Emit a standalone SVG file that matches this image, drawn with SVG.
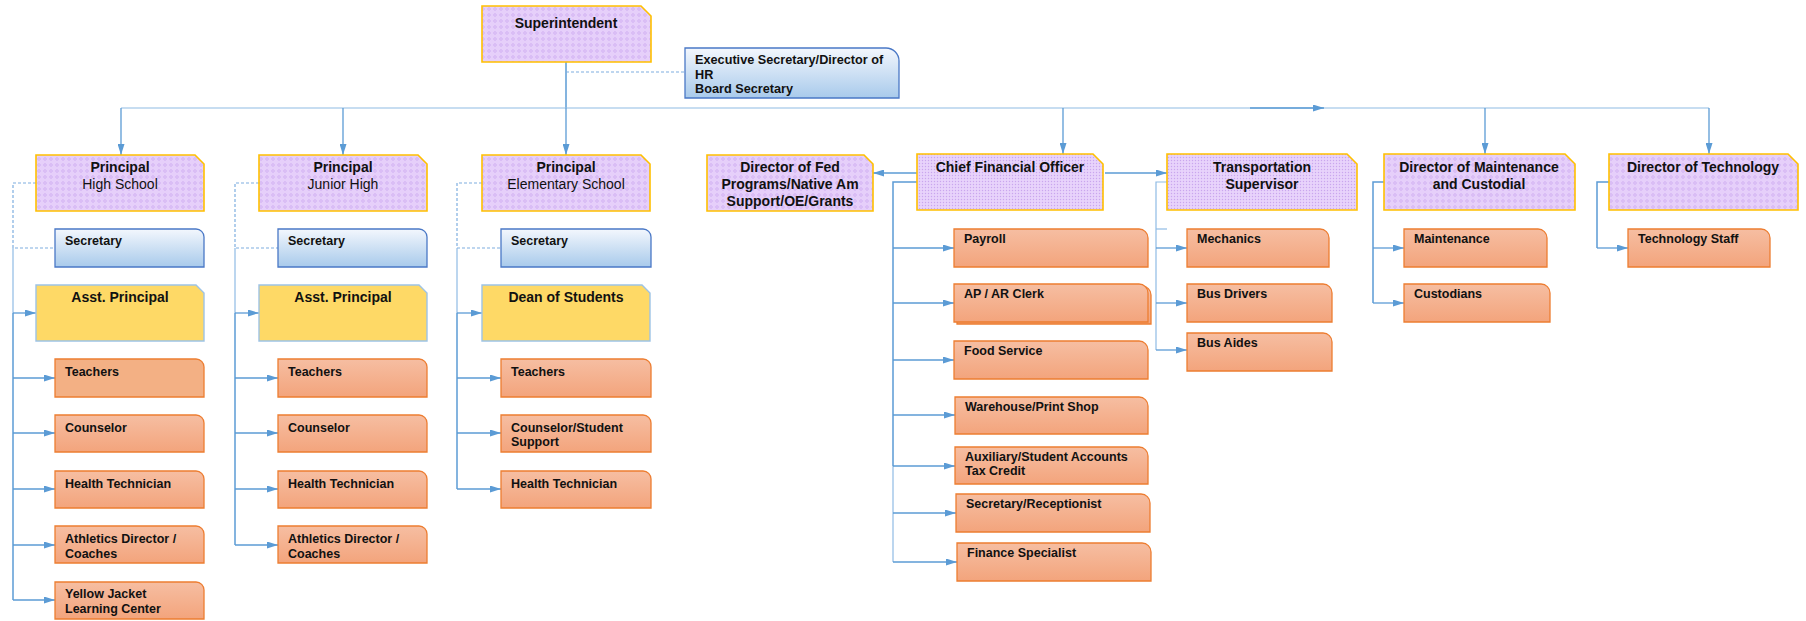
<svg xmlns="http://www.w3.org/2000/svg" width="1806" height="621" viewBox="0 0 1806 621">
<style>
.t{font-family:"Liberation Sans",Arial,sans-serif;fill:#111;}
.h{font-size:14px;font-weight:bold;text-anchor:middle;}
.hr{font-size:14px;font-weight:normal;text-anchor:middle;}
.c{font-size:12.5px;font-weight:bold;}
.pur{fill:url(#dots);stroke:#ffc000;stroke-width:1.6;}
.purf{fill:url(#fine);stroke:#ffc000;stroke-width:1.6;}
.yel{fill:#fed966;stroke:#9dc3e6;stroke-width:1.4;}
.blu{fill:url(#gBlue);stroke:#4a78c6;stroke-width:1.3;}
.org{fill:url(#gOrange);stroke:#ed7d31;stroke-width:1.3;}
.ln{fill:none;stroke:#5b9bd5;stroke-width:1.5;}
.lt{fill:none;stroke:#8fbbe4;stroke-width:1.2;}
.ar{fill:none;stroke:#5b9bd5;stroke-width:1.3;marker-end:url(#ah);}
.dsh{fill:none;stroke:#7eaee0;stroke-width:1.2;stroke-dasharray:3 2;}
</style>
<defs>
<pattern id="dots" width="6" height="6" patternUnits="userSpaceOnUse"><rect width="6" height="6" fill="#e6cffa"/><circle cx="3" cy="3" r="1.3" fill="none" stroke="#c6a0ec" stroke-width="0.6"/></pattern>
<pattern id="fine" width="3" height="3" patternUnits="userSpaceOnUse"><rect width="3" height="3" fill="#e8d3fb"/><circle cx="1.5" cy="1.5" r="0.7" fill="#c9a6ee"/></pattern>
<linearGradient id="gOrange" x1="0" y1="0" x2="0" y2="1"><stop offset="0" stop-color="#f6bea2"/><stop offset="1" stop-color="#f3a47c"/></linearGradient>
<linearGradient id="gBlue" x1="0" y1="0" x2="0" y2="1"><stop offset="0" stop-color="#f3f7fd"/><stop offset="1" stop-color="#a8caeb"/></linearGradient>
<marker id="ah" viewBox="0 0 11 7" refX="11" refY="3.5" markerWidth="11" markerHeight="7" markerUnits="userSpaceOnUse" orient="auto"><path d="M0 0 L11 3.5 L0 7 Z" fill="#5b9bd5"/></marker>
</defs>

<g id="connectors">
<path class="ln" d="M566 62 V108"/>
<path class="dsh" d="M566 72 H685"/>
<path class="lt" d="M121 108 H1709"/>
<path class="ar" d="M1250 108 H1324"/>
<path class="ar" d="M121 108 V155"/>
<path class="ar" d="M343 108 V155"/>
<path class="ar" d="M566 108 V155"/>
<path class="ar" d="M1063 108 V154"/>
<path class="ar" d="M1485 108 V154"/>
<path class="ar" d="M1709 108 V154"/>
<path class="ar" d="M917 173 H873"/>
<path class="ar" d="M1105 173 H1167"/>
<!-- CFO tree -->
<path class="ln" d="M917 182 H893 V466"/>
<path class="lt" d="M893 466 V562"/>
<path class="ar" d="M893 248 H954"/>
<path class="ar" d="M893 303 H954"/>
<path class="ar" d="M893 360 H954"/>
<path class="ar" d="M893 415 H955"/>
<path class="ar" d="M893 466 H955"/>
<path class="ar" d="M893 513 H956"/>
<path class="ar" d="M893 562 H957"/>
<!-- Transportation tree -->
<path class="lt" d="M1167 182 H1156 V350"/>
<path class="lt" d="M1156 229 H1167"/>
<path class="ar" d="M1156 248 H1187"/>
<path class="ar" d="M1156 303 H1187"/>
<path class="ar" d="M1156 350 H1187"/>
<!-- Maintenance tree -->
<path class="ln" d="M1384 182 H1373 V303"/>
<path class="ar" d="M1373 248 H1404"/>
<path class="ar" d="M1373 303 H1404"/>
<!-- Technology tree -->
<path class="ln" d="M1609 182 H1597 V248"/>
<path class="ar" d="M1597 248 H1628"/>
<!-- High School tree -->
<path class="dsh" d="M36 183 H13 V248 H55"/>
<path class="lt" d="M13 248 V313"/>
<path class="ln" d="M13 313 V600"/>
<path class="ar" d="M13 313 H36"/>
<path class="ar" d="M13 378 H55"/>
<path class="ar" d="M13 433 H55"/>
<path class="ar" d="M13 489 H55"/>
<path class="ar" d="M13 545 H55"/>
<path class="ar" d="M13 600 H55"/>
<!-- Junior High tree -->
<path class="dsh" d="M259 183 H235 V248 H278"/>
<path class="lt" d="M235 248 V313"/>
<path class="ln" d="M235 313 V545"/>
<path class="ar" d="M235 313 H259"/>
<path class="ar" d="M235 378 H278"/>
<path class="ar" d="M235 433 H278"/>
<path class="ar" d="M235 489 H278"/>
<path class="ar" d="M235 545 H278"/>
<!-- Elementary tree -->
<path class="dsh" d="M482 183 H457 V248 H501"/>
<path class="lt" d="M457 248 V313"/>
<path class="ln" d="M457 313 V489"/>
<path class="ar" d="M457 313 H482"/>
<path class="ar" d="M457 378 H501"/>
<path class="ar" d="M457 433 H501"/>
<path class="ar" d="M457 489 H501"/>
</g>

<g id="superintendent"><path class="pur" d="M482 6 H641 L651 16 V62 H482 Z"/><text class="t h" x="566" y="28">Superintendent</text></g>
<g id="exec-secretary"><path class="blu" d="M685 48 H886 A13 13 0 0 1 899 61 V98 H685 Z"/><text class="t c" x="695" y="64" style="font-size:12.7px">Executive Secretary/Director of</text><text class="t c" x="695" y="79" style="font-size:12.7px">HR</text><text class="t c" x="695" y="93" style="font-size:12.7px">Board Secretary</text></g>

<g id="principal-hs"><path class="pur" d="M36 155 H195 L204 164 V211 H36 Z"/><text class="t h" x="120" y="172">Principal</text><text class="t hr" x="120" y="189">High School</text></g>
<g id="principal-jh"><path class="pur" d="M259 155 H418 L427 164 V211 H259 Z"/><text class="t h" x="343" y="172">Principal</text><text class="t hr" x="343" y="189">Junior High</text></g>
<g id="principal-es"><path class="pur" d="M482 155 H641 L650 164 V211 H482 Z"/><text class="t h" x="566" y="172">Principal</text><text class="t hr" x="566" y="189">Elementary School</text></g>

<g id="secretary-hs"><path class="blu" d="M55 229 H196 A8 8 0 0 1 204 237 V267 H55 Z"/><text class="t c" x="65" y="245">Secretary</text></g>
<g id="secretary-jh"><path class="blu" d="M278 229 H419 A8 8 0 0 1 427 237 V267 H278 Z"/><text class="t c" x="288" y="245">Secretary</text></g>
<g id="secretary-es"><path class="blu" d="M501 229 H643 A8 8 0 0 1 651 237 V267 H501 Z"/><text class="t c" x="511" y="245">Secretary</text></g>

<g id="asst-principal-hs"><path class="yel" d="M36 285 H196 L204 293 V341 H36 Z"/><text class="t h" x="120" y="302">Asst. Principal</text></g>
<g id="asst-principal-jh"><path class="yel" d="M259 285 H419 L427 293 V341 H259 Z"/><text class="t h" x="343" y="302">Asst. Principal</text></g>
<g id="dean-es"><path class="yel" d="M482 285 H642 L650 293 V341 H482 Z"/><text class="t h" x="566" y="302">Dean of Students</text></g>

<g id="hs-teachers"><path class="org" style="fill:#f3b084" d="M55 359 H196 A8 8 0 0 1 204 367 V397 H55 Z"/><text class="t c" x="65" y="376">Teachers</text></g>
<g id="hs-counselor"><path class="org" d="M55 415 H196 A8 8 0 0 1 204 423 V452 H55 Z"/><text class="t c" x="65" y="432">Counselor</text></g>
<g id="hs-health"><path class="org" d="M55 471 H196 A8 8 0 0 1 204 479 V508 H55 Z"/><text class="t c" x="65" y="488">Health Technician</text></g>
<g id="hs-athletics"><path class="org" d="M55 526 H196 A8 8 0 0 1 204 534 V563 H55 Z"/><text class="t c" x="65" y="543">Athletics Director /</text><text class="t c" x="65" y="558">Coaches</text></g>
<g id="hs-yellow-jacket"><path class="org" d="M55 582 H196 A8 8 0 0 1 204 590 V619 H55 Z"/><text class="t c" x="65" y="598">Yellow Jacket</text><text class="t c" x="65" y="613">Learning Center</text></g>

<g id="jh-teachers"><path class="org" d="M278 359 H419 A8 8 0 0 1 427 367 V397 H278 Z"/><text class="t c" x="288" y="376">Teachers</text></g>
<g id="jh-counselor"><path class="org" d="M278 415 H419 A8 8 0 0 1 427 423 V452 H278 Z"/><text class="t c" x="288" y="432">Counselor</text></g>
<g id="jh-health"><path class="org" d="M278 471 H419 A8 8 0 0 1 427 479 V508 H278 Z"/><text class="t c" x="288" y="488">Health Technician</text></g>
<g id="jh-athletics"><path class="org" d="M278 526 H419 A8 8 0 0 1 427 534 V563 H278 Z"/><text class="t c" x="288" y="543">Athletics Director /</text><text class="t c" x="288" y="558">Coaches</text></g>

<g id="es-teachers"><path class="org" d="M501 359 H643 A8 8 0 0 1 651 367 V397 H501 Z"/><text class="t c" x="511" y="376">Teachers</text></g>
<g id="es-counselor"><path class="org" d="M501 415 H643 A8 8 0 0 1 651 423 V452 H501 Z"/><text class="t c" x="511" y="432">Counselor/Student</text><text class="t c" x="511" y="446">Support</text></g>
<g id="es-health"><path class="org" d="M501 471 H643 A8 8 0 0 1 651 479 V508 H501 Z"/><text class="t c" x="511" y="488">Health Technician</text></g>

<g id="director-fed"><path class="pur" d="M707 155 H864 L873 164 V211 H707 Z"/><text class="t h" x="790" y="172">Director of Fed</text><text class="t h" x="790" y="189">Programs/Native Am</text><text class="t h" x="790" y="206">Support/OE/Grants</text></g>
<g id="cfo"><path class="purf" d="M917 154 H1093 L1103 164 V210 H917 Z"/><text class="t h" x="1010" y="172">Chief Financial Officer</text></g>

<g id="payroll"><path class="org" d="M954 229 H1139 A9 9 0 0 1 1148 238 V267 H954 Z"/><text class="t c" x="964" y="243">Payroll</text></g>
<g id="ap-ar-clerk"><path class="org" d="M957 286 H1142 A9 9 0 0 1 1151 295 V324 H957 Z"/><path class="org" d="M954 284 H1139 A9 9 0 0 1 1148 293 V322 H954 Z"/><text class="t c" x="964" y="298">AP / AR Clerk</text></g>
<g id="food-service"><path class="org" d="M954 341 H1139 A9 9 0 0 1 1148 350 V379 H954 Z"/><text class="t c" x="964" y="355">Food Service</text></g>
<g id="warehouse"><path class="org" d="M955 397 H1139 A9 9 0 0 1 1148 406 V434 H955 Z"/><text class="t c" x="965" y="411">Warehouse/Print Shop</text></g>
<g id="auxiliary"><path class="org" d="M955 447 H1139 A9 9 0 0 1 1148 456 V484 H955 Z"/><text class="t c" x="965" y="461">Auxiliary/Student Accounts</text><text class="t c" x="965" y="475">Tax Credit</text></g>
<g id="secretary-receptionist"><path class="org" d="M956 494 H1141 A9 9 0 0 1 1150 503 V532 H956 Z"/><text class="t c" x="966" y="508">Secretary/Receptionist</text></g>
<g id="finance-specialist"><path class="org" d="M957 543 H1142 A9 9 0 0 1 1151 552 V581 H957 Z"/><text class="t c" x="967" y="557">Finance Specialist</text></g>

<g id="transportation"><path class="purf" d="M1167 154 H1347 L1357 164 V210 H1167 Z"/><text class="t h" x="1262" y="172">Transportation</text><text class="t h" x="1262" y="189">Supervisor</text></g>
<g id="mechanics"><path class="org" d="M1187 229 H1320 A9 9 0 0 1 1329 238 V267 H1187 Z"/><text class="t c" x="1197" y="243">Mechanics</text></g>
<g id="bus-drivers"><path class="org" d="M1187 284 H1323 A9 9 0 0 1 1332 293 V322 H1187 Z"/><text class="t c" x="1197" y="298">Bus Drivers</text></g>
<g id="bus-aides"><path class="org" d="M1187 333 H1323 A9 9 0 0 1 1332 342 V371 H1187 Z"/><text class="t c" x="1197" y="347">Bus Aides</text></g>

<g id="director-maintenance"><path class="pur" d="M1384 154 H1565 L1575 164 V210 H1384 Z"/><text class="t h" x="1479" y="172">Director of Maintenance</text><text class="t h" x="1479" y="189">and Custodial</text></g>
<g id="maintenance"><path class="org" d="M1404 229 H1538 A9 9 0 0 1 1547 238 V267 H1404 Z"/><text class="t c" x="1414" y="243">Maintenance</text></g>
<g id="custodians"><path class="org" d="M1404 284 H1541 A9 9 0 0 1 1550 293 V322 H1404 Z"/><text class="t c" x="1414" y="298">Custodians</text></g>

<g id="director-technology"><path class="pur" d="M1609 154 H1788 L1798 164 V210 H1609 Z"/><text class="t h" x="1703" y="172">Director of Technology</text></g>
<g id="technology-staff"><path class="org" d="M1628 229 H1761 A9 9 0 0 1 1770 238 V267 H1628 Z"/><text class="t c" x="1638" y="243">Technology Staff</text></g>
</svg>
